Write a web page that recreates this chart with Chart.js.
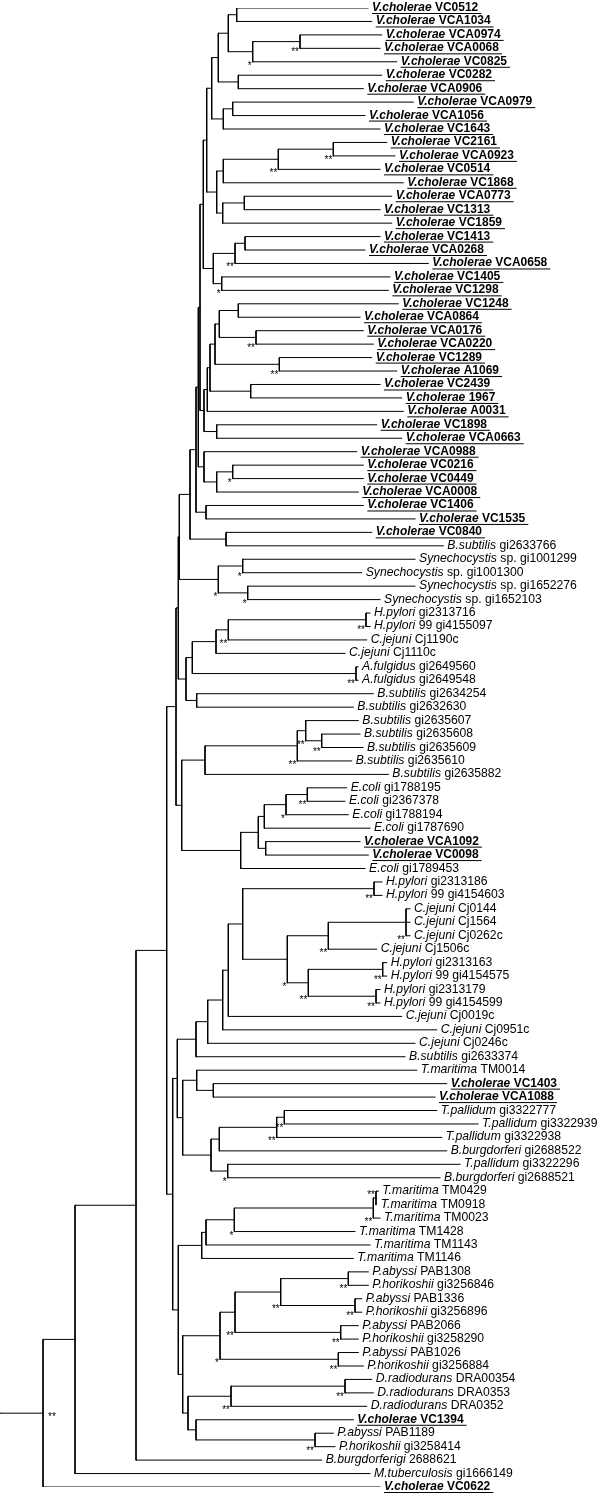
<!DOCTYPE html>
<html>
<head>
<meta charset="utf-8">
<script src="https://cdn.jsdelivr.net/npm/chart.js@4.4.1/dist/chart.umd.min.js"></script>
<style>
html, body { margin: 0; padding: 0; background: #fff; }
#wrap { width: 600px; height: 1495px; position: relative; }
</style>
</head>
<body>
<div id="wrap"><canvas id="tree"></canvas></div>
<script>
// leaves, top to bottom
var leafNames = [
  'V.cholerae VC0512', 'V.cholerae VCA1034', 'V.cholerae VCA0974', 'V.cholerae VCA0068', 'V.cholerae VC0825',
  'V.cholerae VC0282', 'V.cholerae VCA0906', 'V.cholerae VCA0979', 'V.cholerae VCA1056', 'V.cholerae VC1643',
  'V.cholerae VC2161', 'V.cholerae VCA0923', 'V.cholerae VC0514', 'V.cholerae VC1868', 'V.cholerae VCA0773',
  'V.cholerae VC1313', 'V.cholerae VC1859', 'V.cholerae VC1413', 'V.cholerae VCA0268', 'V.cholerae VCA0658',
  'V.cholerae VC1405', 'V.cholerae VC1298', 'V.cholerae VC1248', 'V.cholerae VCA0864', 'V.cholerae VCA0176',
  'V.cholerae VCA0220', 'V.cholerae VC1289', 'V.cholerae A1069', 'V.cholerae VC2439', 'V.cholerae 1967',
  'V.cholerae A0031', 'V.cholerae VC1898', 'V.cholerae VCA0663', 'V.cholerae VCA0988', 'V.cholerae VC0216',
  'V.cholerae VC0449', 'V.cholerae VCA0008', 'V.cholerae VC1406', 'V.cholerae VC1535', 'V.cholerae VC0840',
  'B.subtilis gi2633766', 'Synechocystis sp. gi1001299', 'Synechocystis sp. gi1001300', 'Synechocystis sp. gi1652276', 'Synechocystis sp. gi1652103',
  'H.pylori gi2313716', 'H.pylori 99 gi4155097', 'C.jejuni Cj1190c', 'C.jejuni Cj1110c', 'A.fulgidus gi2649560',
  'A.fulgidus gi2649548', 'B.subtilis gi2634254', 'B.subtilis gi2632630', 'B.subtilis gi2635607', 'B.subtilis gi2635608',
  'B.subtilis gi2635609', 'B.subtilis gi2635610', 'B.subtilis gi2635882', 'E.coli gi1788195', 'E.coli gi2367378',
  'E.coli gi1788194', 'E.coli gi1787690', 'V.cholerae VCA1092', 'V.cholerae VC0098', 'E.coli gi1789453',
  'H.pylori gi2313186', 'H.pylori 99 gi4154603', 'C.jejuni Cj0144', 'C.jejuni Cj1564', 'C.jejuni Cj0262c',
  'C.jejuni Cj1506c', 'H.pylori gi2313163', 'H.pylori 99 gi4154575', 'H.pylori gi2313179', 'H.pylori 99 gi4154599',
  'C.jejuni Cj0019c', 'C.jejuni Cj0951c', 'C.jejuni Cj0246c', 'B.subtilis gi2633374', 'T.maritima TM0014',
  'V.cholerae VC1403', 'V.cholerae VCA1088', 'T.pallidum gi3322777', 'T.pallidum gi3322939', 'T.pallidum gi3322938',
  'B.burgdorferi gi2688522', 'T.pallidum gi3322296', 'B.burgdorferi gi2688521', 'T.maritima TM0429', 'T.maritima TM0918',
  'T.maritima TM0023', 'T.maritima TM1428', 'T.maritima TM1143', 'T.maritima TM1146', 'P.abyssi PAB1308',
  'P.horikoshii gi3256846', 'P.abyssi PAB1336', 'P.horikoshii gi3256896', 'P.abyssi PAB2066', 'P.horikoshii gi3258290',
  'P.abyssi PAB1026', 'P.horikoshii gi3256884', 'D.radiodurans DRA00354', 'D.radiodurans DRA0353', 'D.radiodurans DRA0352',
  'V.cholerae VC1394', 'P.abyssi PAB1189', 'P.horikoshii gi3258414', 'B.burgdorferigi 2688621', 'M.tuberculosis gi1666149',
  'V.cholerae VC0622'
];

// where each leaf branch ends (distance from root)
var leafTips = [
  368, 371.7, 381.7, 380, 396.7, 381.7, 363.3, 413.3, 365, 380,
  386.7, 395, 380, 403.3, 391.7, 380, 391.7, 380, 365, 428.3,
  390, 388.3, 398.3, 360, 363.3, 373.3, 371.7, 396.7, 380, 401.7,
  403.3, 376.7, 401.7, 356.7, 363.3, 363.3, 358.3, 363.3, 415, 371.7,
  443.3, 415, 361.7, 415, 380, 370, 370, 366.7, 345, 358,
  358, 373.3, 353.3, 358.3, 360, 363, 351.7, 388.3, 346.7, 345,
  348.3, 370, 360, 368.3, 365, 382, 382, 410, 410, 410,
  376.7, 386.7, 386.7, 380, 380, 401.7, 436.7, 415, 405, 416.7,
  446.7, 435, 436.7, 478, 441.7, 446.7, 460, 440, 378.3, 376.7,
  380, 355, 370, 353.3, 368.3, 368.3, 361.7, 361.7, 358.3, 358.3,
  358.3, 363.3, 371.7, 373.3, 366.7, 353.3, 333.3, 335, 321.7, 370,
  380
];

// internal nodes, children first; numbers are leaves, 'nK' is node K
var nodeKids = [
  [0, 1], [2, 3], ['n1', 4], ['n0', 'n2'], [5, 6],
  ['n3', 'n4'], [7, 8], ['n6', 9], ['n5', 'n7'], [10, 11],
  ['n9', 12], ['n10', 13], [14, 15], ['n12', 16], ['n11', 'n13'],
  ['n8', 'n14'], [17, 18], ['n16', 19], [20, 21], ['n17', 'n18'],
  ['n15', 'n19'], [22, 23], [24, 25], ['n21', 'n22'], [26, 27],
  ['n23', 'n24'], [28, 29], ['n25', 'n26'], ['n27', 30], [31, 32],
  ['n28', 'n29'], ['n20', 'n30'], [34, 35], ['n32', 36], [33, 'n33'],
  ['n31', 'n34'], [37, 38], ['n35', 'n36'], [39, 40], ['n37', 'n38'],
  [41, 42], [43, 44], ['n40', 'n41'], ['n39', 'n42'], [45, 46],
  ['n44', 47], ['n45', 48], [49, 50], ['n46', 'n47'], [51, 52],
  ['n48', 'n49'], ['n43', 'n50'], [54, 55], [53, 'n52'], ['n53', 56],
  ['n54', 57], [58, 59], ['n56', 60], ['n57', 61], [62, 63],
  ['n58', 'n59'], ['n60', 64], ['n55', 'n61'], ['n51', 'n62'], [65, 66],
  [67, 68, 69], ['n65', 70], [71, 72], [73, 74], ['n67', 'n68'],
  ['n66', 'n69'], ['n64', 'n70'], ['n71', 75], ['n72', 76], ['n73', 77],
  ['n74', 78], [80, 81], [79, 'n76'], [82, 83], ['n78', 84],
  ['n79', 85], [86, 87], ['n80', 'n81'], ['n77', 'n82'], ['n75', 'n83'],
  [88, 89], ['n85', 90], ['n86', 91], ['n87', 92], ['n88', 93],
  [94, 95], [96, 97], ['n90', 'n91'], [98, 99], ['n92', 'n93'],
  [100, 101], ['n94', 'n95'], [102, 103], ['n97', 104], [106, 107],
  [105, 'n99'], ['n98', 'n100'], ['n96', 'n101'], ['n89', 'n102'], ['n84', 'n103'],
  ['n63', 'n104'], ['n105', 108], ['n106', 109], ['n107', 110]
];

var nodeX = [
  236.7, 300, 252.7, 228.3, 238.3, 218.3, 232.7, 223.3, 211.7, 333.3,
  278.3, 223.3, 244.3, 222.7, 216.7, 206.7, 245, 235, 221.7, 213.3,
  203.3, 238.3, 256, 219.3, 279.3, 215, 250.7, 210, 207.3, 216.7,
  204, 200, 232.7, 216.7, 204, 198.3, 206, 196, 226, 190,
  242.7, 247.7, 218.3, 179.3, 366, 228.3, 216, 356, 192.3, 196.7,
  186, 178.3, 321.7, 305.7, 297.3, 205, 307.3, 286, 264.3, 265.7,
  258.3, 240.7, 181.7, 176, 374, 406, 328.3, 382.7, 376, 308.3,
  287.3, 242.7, 228.3, 222.7, 207.7, 196, 213.3, 196.7, 284.3, 276.7,
  219.3, 227.7, 211, 182.7, 177.3, 376, 373.3, 234.3, 206, 201.7,
  348.3, 355, 280.7, 340.7, 235, 338.3, 220, 345, 231, 315,
  196, 188, 182.7, 178.3, 172.7, 166.7, 136, 75, 43
];

// bootstrap support marks per node
var nodeMarks = [
  '', '**', '*', '', '', '', '', '', '', '**',
  '**', '', '', '', '', '', '', '**', '*', '',
  '', '', '**', '', '**', '', '', '', '', '',
  '', '', '*', '', '', '', '', '', '', '',
  '*', '*', '*', '', '**', '**', '', '**', '', '',
  '', '', '**', '**', '**', '', '**', '*', '', '',
  '', '', '', '', '**', '**', '**', '**', '**', '**',
  '*', '', '', '', '', '', '', '', '**', '**',
  '', '*', '', '', '', '**', '**', '*', '', '',
  '**', '**', '**', '**', '**', '**', '*', '**', '**', '**',
  '', '', '', '', '', '', '', '', '**'
];
var marksAtTop = [85];
var marksBeside = [108];
var rootStart = 0;

// node heights: leaves sit at their row, nodes midway between first and last child
var nodeY = [];
function kidX(k) { return typeof k === 'number' ? leafTips[k] : nodeX[+k.slice(1)]; }
function kidY(k) { return typeof k === 'number' ? k : nodeY[+k.slice(1)]; }
nodeKids.forEach(function (kids, i) {
  nodeY[i] = (kidY(kids[0]) + kidY(kids[kids.length - 1])) / 2;
});

var branchPts = [];
nodeKids.forEach(function (kids, i) {
  branchPts.push({x: nodeX[i], y: kidY(kids[0])}, {x: nodeX[i], y: kidY(kids[kids.length - 1])}, {x: null, y: null});
  kids.forEach(function (k) {
    branchPts.push({x: nodeX[i], y: kidY(k)}, {x: kidX(k), y: kidY(k)}, {x: null, y: null});
  });
});
var rootIdx = nodeKids.length - 1;
branchPts.push({x: rootStart, y: nodeY[rootIdx]}, {x: nodeX[rootIdx], y: nodeY[rootIdx]});

var family = '"Liberation Sans", Arial, Helvetica, sans-serif';

var treeLabels = {
  id: 'treeLabels',
  afterDatasetsDraw: function (chart) {
    var ctx = chart.ctx, xs = chart.scales.x, ys = chart.scales.y;
    ctx.save();
    ctx.fillStyle = '#000';
    ctx.textBaseline = 'alphabetic';
    ctx.textAlign = 'left';
    leafNames.forEach(function (name, i) {
      var px = xs.getPixelForValue(leafTips[i]) + 4;
      var py = ys.getPixelForValue(i) + 3;
      var sp = name.indexOf(' ');
      var head = name.slice(0, sp), tail = name.slice(sp);
      var bold = head === 'V.cholerae';
      var size = bold ? '12px ' : '12.2px ';
      ctx.font = (bold ? 'italic bold ' : 'italic ') + size + family;
      ctx.fillText(head, px, py);
      var w1 = ctx.measureText(head).width;
      ctx.font = (bold ? 'bold ' : '') + size + family;
      ctx.fillText(tail, px + w1, py);
      if (bold) {
        var w2 = ctx.measureText(tail).width;
        ctx.fillRect(px, py + 2, w1 + w2 + 3, 1);
      }
    });
    ctx.font = '10px ' + family;
    nodeMarks.forEach(function (m, i) {
      if (!m) return;
      var kids = nodeKids[i];
      var px = xs.getPixelForValue(nodeX[i]);
      if (marksBeside.indexOf(i) >= 0) {
        ctx.textAlign = 'left';
        ctx.fillText(m, px + 5, ys.getPixelForValue(nodeY[i]) + 7);
        return;
      }
      var yk = marksAtTop.indexOf(i) >= 0 ? kidY(kids[0]) : kidY(kids[kids.length - 1]);
      ctx.textAlign = 'right';
      ctx.fillText(m, px - 1, ys.getPixelForValue(yk) + 7);
    });
    ctx.restore();
  }
};

new Chart(document.getElementById('tree'), {
  type: 'scatter',
  data: {
    datasets: [{
      label: 'branches',
      data: branchPts,
      showLine: true,
      spanGaps: false,
      borderColor: '#000',
      borderWidth: 1,
      borderCapStyle: 'square',
      pointRadius: 0,
      pointHoverRadius: 0
    }]
  },
  options: {
    responsive: true,
    maintainAspectRatio: false,
    animation: false,
    events: [],
    layout: { padding: { top: 8, bottom: 8, left: 0, right: 0 } },
    plugins: { legend: { display: false }, tooltip: { enabled: false } },
    scales: {
      x: { type: 'linear', min: 0, max: 600, display: false },
      y: { type: 'linear', min: 0, max: 110, reverse: true, display: false }
    }
  },
  plugins: [treeLabels]
});
</script>
</body>
</html>
